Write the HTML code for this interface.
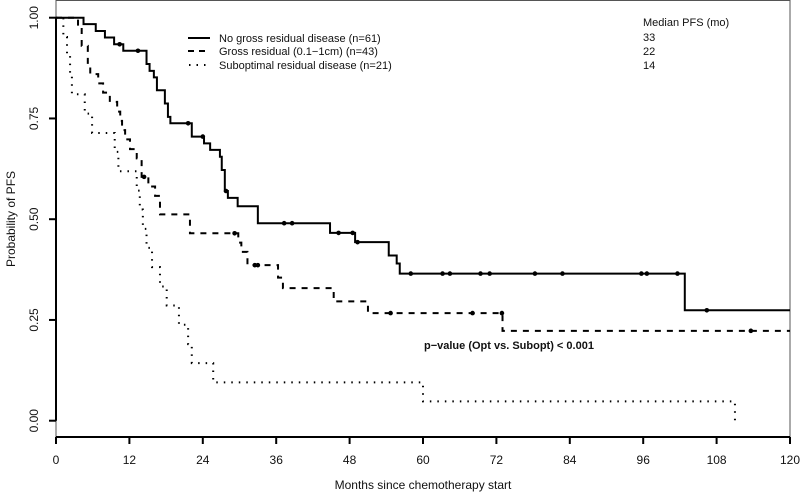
<!DOCTYPE html>
<html><head><meta charset="utf-8"><style>
html,body{margin:0;padding:0;background:#fff;}
svg{display:block;font-family:"Liberation Sans",Arial,sans-serif;}
</style></head><body>
<svg id="chart" width="800" height="496">
<rect x="56" y="0.5" width="734" height="437" fill="none" stroke="#555" stroke-width="1"/>
<g id="axes"></g>
<g id="curves"></g>
<g font-size="11" fill="#111">
<line x1="188" y1="38" x2="210" y2="38" stroke="#000" stroke-width="2"/>
<text x="219" y="42">No gross residual disease (n=61)</text>
<line x1="188" y1="51" x2="210" y2="51" stroke="#000" stroke-width="2" stroke-dasharray="6,5"/>
<text x="219" y="55">Gross residual (0.1−1cm) (n=43)</text>
<line x1="189" y1="65" x2="210" y2="65" stroke="#000" stroke-width="2" stroke-dasharray="1.5,6"/>
<text x="219" y="69">Suboptimal residual disease (n=21)</text>
</g>
<g font-size="11" fill="#111">
<text x="643" y="26">Median PFS (mo)</text>
<text x="643" y="41">33</text>
<text x="643" y="55">22</text>
<text x="643" y="69">14</text>
</g>
<text x="424" y="349" font-size="11" font-weight="bold" fill="#111">p−value (Opt vs. Subopt) &lt; 0.001</text>
<text x="423" y="489" font-size="12" text-anchor="middle" fill="#111">Months since chemotherapy start</text>
<text transform="translate(15,219) rotate(-90)" font-size="12" text-anchor="middle" fill="#111">Probability of PFS</text>
</svg>
<script>
const xTicks=[0,12,24,36,48,60,72,84,96,108,120];
const yTicks=[0,0.25,0.5,0.75,1];
const yTickLabels=["0.00","0.25","0.50","0.75","1.00"];
// step curves: times and survival after each event
const solidTimes=[0,4.5,6.5,8,9.5,11,14.8,15.3,16,16.5,17.8,18.3,18.7,22.2,24.2,25.2,26.8,27.1,27.6,28.1,29.7,33,44.8,48.9,54.4,55.7,56.2,102.8,120];
const solidSurv=[1,0.984,0.967,0.951,0.934,0.918,0.885,0.868,0.852,0.82,0.787,0.754,0.738,0.705,0.688,0.672,0.655,0.622,0.57,0.553,0.532,0.49,0.466,0.443,0.41,0.39,0.365,0.274,0.274];
const solidCensor=[10.4,13.4,21.6,24,27.8,37.3,38.6,46.2,48.5,49.3,58,63.2,64.4,69.4,70.9,78.3,82.8,95.7,96.6,101.6,106.4];
const dashTimes=[0,3.6,4.2,5.2,5.6,6.9,7.7,8.8,10,10.5,10.8,11.3,12.1,13.2,14,15.1,16.2,17,21.9,29.8,30.3,31.3,36.3,37.1,45.4,51,73,120];
const dashSurv=[1,0.977,0.93,0.884,0.86,0.837,0.814,0.791,0.767,0.744,0.721,0.698,0.674,0.651,0.605,0.581,0.558,0.512,0.465,0.442,0.419,0.386,0.355,0.329,0.296,0.267,0.223,0.223];
const dashCensor=[14.4,29.2,32.5,33,54.7,68.1,72.9,113.6];
const dotTimes=[0,1.2,1.8,2.3,2.6,4.7,5.9,9.6,10.2,13.2,13.7,14.2,14.8,15.7,17,18.1,20.1,21.6,22.2,25.7,60,111];
const dotSurv=[1,0.952,0.905,0.857,0.81,0.762,0.714,0.667,0.619,0.571,0.524,0.476,0.429,0.381,0.333,0.286,0.238,0.19,0.143,0.095,0.048,0];

const X=t=>56+t*(734/120);
const Y=p=>420.7-p*403;
const NS="http://www.w3.org/2000/svg";
function mk(tag,attrs,parent){const e=document.createElementNS(NS,tag);for(const k in attrs)e.setAttribute(k,attrs[k]);parent.appendChild(e);return e;}
const axes=document.getElementById('axes');
const xa=mk('line',{x1:56,y1:437,x2:790,y2:437,stroke:'#000','stroke-width':2},axes);


xTicks.forEach(t=>{
 const l=mk('line',{x1:X(t),y1:437,x2:X(t),y2:444,stroke:'#000','stroke-width':2},axes);
 
 
 const tx=mk('text',{x:X(t),y:464,'font-size':12,'text-anchor':'middle',fill:'#111'},axes);
 tx.textContent=t;
 
 
});
const ya=mk('line',{x1:56,y1:Y(0),x2:56,y2:Y(1),stroke:'#000','stroke-width':2},axes);


yTicks.forEach((p,i)=>{
 const l=mk('line',{x1:49,y1:Y(p),x2:56,y2:Y(p),stroke:'#000','stroke-width':2},axes);
 
 
 const tx=mk('text',{transform:`translate(38,${Y(p)}) rotate(-90)`,'font-size':12,'text-anchor':'middle',fill:'#111'},axes);
 tx.textContent=yTickLabels[i];
 
 
});
const curves=document.getElementById('curves');
function survAt(times,surv,t){let s=surv[0];for(let i=0;i<times.length;i++){if(times[i]<=t)s=surv[i];}return s;}
function draw(times,surv,censor,dash,name){
 let d=`M${X(times[0])},${Y(surv[0])}`;
 for(let i=1;i<times.length;i++){d+=` H${X(times[i])} V${Y(surv[i])}`;}
 const p=mk('path',{d:d,fill:'none',stroke:'#000','stroke-width':2},curves);
 if(dash)p.setAttribute('stroke-dasharray',dash);
 
 
 censor.forEach(t=>{
  const c=mk('circle',{cx:X(t),cy:Y(survAt(times,surv,t)),r:2.3,fill:'#000'},curves);
  
  
 });
}
draw(solidTimes,solidSurv,solidCensor,null,'curve-no-gross-residual');
draw(dashTimes,dashSurv,dashCensor,'6,6','curve-gross-residual');
draw(dotTimes,dotSurv,[],'1.5,6','curve-suboptimal-residual');
</script>
</body></html>
